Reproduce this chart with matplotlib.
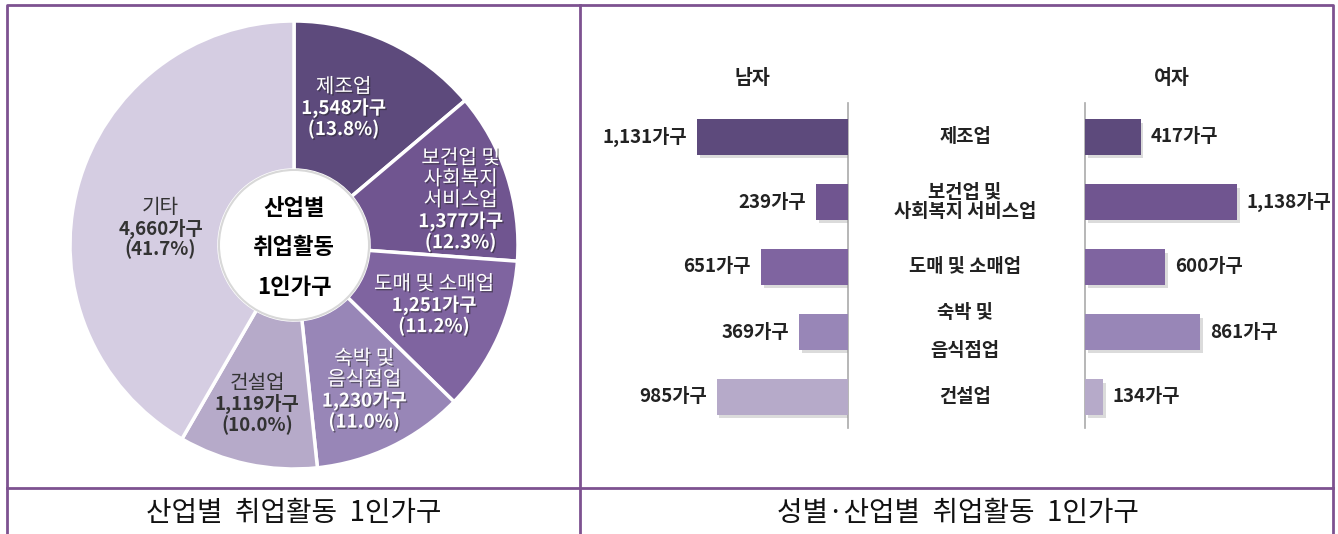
import numpy as np
import matplotlib
matplotlib.use("Agg")
import matplotlib.pyplot as plt
import matplotlib.transforms as mtransforms
import matplotlib.patheffects as pe
from matplotlib.patches import Circle

plt.rcParams['font.family'] = ['Noto Sans CJK KR', 'DejaVu Sans']

# ---- data ----
pie_names = ["제조업", "보건업 및\n사회복지\n서비스업", "도매 및 소매업", "숙박 및\n음식점업", "건설업", "기타"]
pie_counts = [1548, 1377, 1251, 1230, 1119, 4660]
pie_pcts = [13.8, 12.3, 11.2, 11.0, 10.0, 41.7]

bar_names = ["제조업", "보건업 및\n사회복지 서비스업", "도매 및 소매업", "숙박 및\n\n음식점업", "건설업"]
male = [1131, 239, 651, 369, 985]
female = [417, 1138, 600, 861, 134]

colors = ["#5d4a7c", "#705590", "#7f64a0", "#9886b7", "#b6aac9", "#d5cde2"]
text_colors = ["white", "white", "white", "white", "#333333", "#333333"]

W, H = 1338, 534
fig = plt.figure(figsize=(W / 100, H / 100), dpi=100)


def px_axes(x0, y0, x1, y1):
    # pixel box (top-left origin) -> axes
    return fig.add_axes([x0 / W, 1 - y1 / H, (x1 - x0) / W, (y1 - y0) / H])


# ---- frame lines ----
frame = fig.add_axes([0, 0, 1, 1])
frame.set_xlim(0, W)
frame.set_ylim(H, 0)
frame.axis("off")
lc = "#7d5290"
frame.plot([7, 7, 1333, 1333], [H + 5, 5, 5, H + 5], color=lc, lw=2)
frame.plot([580, 580], [5, H + 5], color=lc, lw=2)
frame.plot([7, 1333], [488, 488], color=lc, lw=2)
frame.text(294, 513, "산업별  취업활동  1인가구", ha="center", va="center", fontsize=20, color="#111111")
frame.text(958, 513, "성별·산업별  취업활동  1인가구", ha="center", va="center", fontsize=20, color="#111111")

# ---- donut ----
cx, cy, R = 294, 245, 224
axp = px_axes(cx - R, cy - R, cx + R, cy + R)
wedges, _ = axp.pie(pie_counts, colors=colors, startangle=90, counterclock=False, radius=1,
                    wedgeprops=dict(width=0.665, edgecolor="white", linewidth=2.5))
axp.set_xlim(-1, 1)
axp.set_ylim(-1, 1)
axp.set_aspect("equal")
axp.axis("off")
axp.add_patch(Circle((0, 0), 0.335, facecolor="white", edgecolor="#d8d8d8", lw=1.5, zorder=5))
for i, line in enumerate(["산업별", "취업활동", "1인가구"]):
    axp.text(0, 0.165 - i * 0.178, line, ha="center", va="center", fontsize=16,
             fontweight="bold", color="black", zorder=6)

# label placement (radius in axes units, angle nudge in degrees)
label_r = [0.65, 0.77, 0.68, 0.72, 0.73, 0.60]
label_dang = [5, -3, 1, 0, -1, 8]
lh = 21 / R  # line height
total = sum(pie_counts)
cum = 0
for i, (name, n, p) in enumerate(zip(pie_names, pie_counts, pie_pcts)):
    mid = 90 - 360 * (cum + n / 2) / total + label_dang[i]
    cum += n
    x = label_r[i] * np.cos(np.radians(mid))
    y = label_r[i] * np.sin(np.radians(mid))
    lines = [(s, "normal", 14.5) for s in name.split("\n")] + \
            [(f"{n:,}가구", "bold", 13.5), (f"({p}%)", "bold", 13.5)]
    n_l = len(lines)
    eff = [pe.withSimplePatchShadow(offset=(1, -1), shadow_rgbFace="#222222", alpha=0.5)] \
        if text_colors[i] == "white" else []
    for k, (s, fw, fs) in enumerate(lines):
        yy = y + (n_l - 1) / 2 * lh - k * lh
        t = axp.text(x, yy, s, ha="center", va="center", fontsize=fs, fontweight=fw,
                     color=text_colors[i], zorder=4)
        t.set_path_effects(eff)

# ---- butterfly bars ----
scale = 0.1335  # px per household
xmax = 228 / scale
row_top, row_gap = 137, 65
y_top_px, y_bot_px = 103, 428
ylim = ((y_bot_px - row_top) / row_gap, (y_top_px - row_top) / row_gap)

axm = px_axes(848 - 228, y_top_px, 848, y_bot_px)
axf = px_axes(1085, y_top_px, 1085 + 228, y_bot_px)
rows = np.arange(len(bar_names))
shadow = [pe.SimplePatchShadow(offset=(2, -2.5), shadow_rgbFace="#999999", alpha=0.35), pe.Normal()]

for ax, vals, side in [(axm, male, "m"), (axf, female, "f")]:
    ax.set_xlim(xmax, 0) if side == "m" else ax.set_xlim(0, xmax)
    ax.set_ylim(*ylim)
    bars = ax.barh(rows, vals, height=0.54, color=colors[:5], zorder=3)
    for b in bars:
        b.set_path_effects(shadow)
    for sp in ax.spines.values():
        sp.set_visible(False)
    keep = "right" if side == "m" else "left"
    ax.spines[keep].set_visible(True)
    ax.spines[keep].set_color("#aaaaaa")
    ax.spines[keep].set_linewidth(1.2)
    ax.set_xticks([])
    ax.set_yticks([])
    ax.patch.set_alpha(0)
    for r, v in zip(rows, vals):
        off = 10 / scale
        ax.text(v + off, r, f"{v:,}가구", ha="right" if side == "m" else "left", va="center",
                fontsize=13.5, fontweight="bold", color="#222222")

fig.text(752 / W, 1 - 78 / H, "남자", ha="center", va="center", fontsize=14,
         fontweight="bold", color="#222222")
fig.text(1172 / W, 1 - 78 / H, "여자", ha="center", va="center", fontsize=14,
         fontweight="bold", color="#222222")

tr = mtransforms.blended_transform_factory(fig.transFigure, axm.transData)
for r, name in zip(rows, bar_names):
    fig.text(965 / W, r, name, transform=tr, ha="center", va="center", fontsize=13.5,
             fontweight="bold", color="#222222", linespacing=1.0)

fig.savefig("out.png", dpi=100)
